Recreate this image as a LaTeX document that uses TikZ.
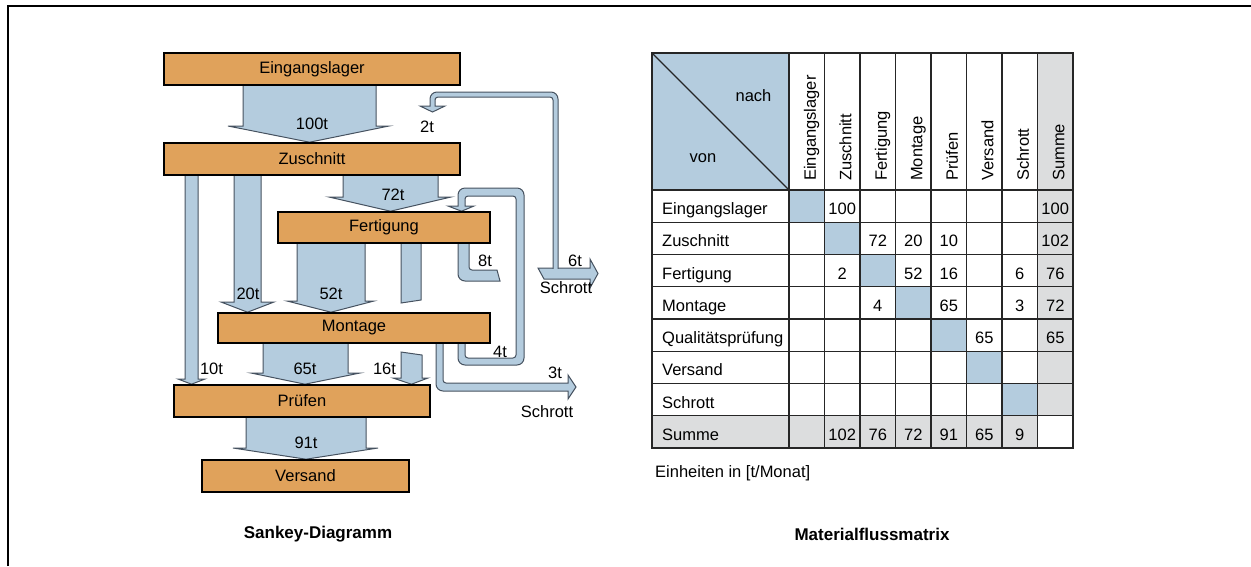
\documentclass[tikz,border=0pt]{standalone}
\usepackage{fontspec}
\setmainfont{Liberation Sans}
\usepackage{tikz}
\usetikzlibrary{backgrounds}
\definecolor{sankeyOrange}{HTML}{E0A25B}
\definecolor{flowBlue}{HTML}{B4CCDE}
\definecolor{flowEdge}{HTML}{465260}
\definecolor{matBlue}{HTML}{B4CCDE}
\definecolor{matGray}{HTML}{DCDDDE}

\begin{document}
\begin{tikzpicture}[
    x=1pt, y=-1pt,
    station/.style={
        draw=black, fill=sankeyOrange, line width=1.6pt,
        font=\fontsize{16.5}{18}\selectfont,
        inner sep=0pt, text centered
    },
    flow/.style={fill=flowBlue, draw=flowEdge, line width=1pt, line join=miter},
    flowlbl/.style={font=\fontsize{16.5}{18}\selectfont, inner sep=0pt},
    cellnum/.style={font=\fontsize{16.5}{18}\selectfont, inner sep=0pt, anchor=base},
    rowlbl/.style={font=\fontsize{16.5}{18}\selectfont, inner sep=0pt, anchor=base west},
    colhead/.style={font=\fontsize{16.5}{18}\selectfont, inner sep=0pt,
        anchor=base west, rotate=90},
    gridline/.style={draw=black!85, line width=1.2pt},
    gridframe/.style={draw=black!85, line width=2pt},
    caption/.style={font=\fontsize{17}{19}\selectfont\bfseries, inner sep=0pt},
]
\useasboundingbox (0,0) rectangle (1251,566);

%% frame (top and left edge)
\draw[line width=2.3pt] (7.8,566) -- (7.8,6.2) -- (1251,6.2);

%% =================================================================
%% Sankey stations
%% =================================================================
\node[station, minimum width=296pt, minimum height=32pt] (lager) at (312,69) {Eingangslager};
\node[station, minimum width=296pt, minimum height=32pt] (zusch) at (312,159) {Zuschnitt};
\node[station, minimum width=212pt, minimum height=31pt] (fert) at (384,227.5) {Fertigung};
\node[station, minimum width=272pt, minimum height=30pt] (mont) at (354,328) {Montage};
\node[station, minimum width=256pt, minimum height=32pt] (pruef) at (302,401) {Prüfen};
\node[station, minimum width=207pt, minimum height=32pt] (vers) at (305.5,476) {Versand};

%% =================================================================
%% Flows (behind the stations)
%% =================================================================
\begin{scope}[on background layer]
% Eingangslager -> Zuschnitt
\draw[flow] (243,0 |- lager.south) -- (243,126) -- (228,126) -- (309.5,0 |- zusch.north)
    -- (389,126) -- (376,126) -- (376,0 |- lager.south);
% Zuschnitt -> Fertigung, Montage, Pruefen
\draw[flow] (343,0 |- zusch.south) -- (343,197) -- (329,197) -- (390.5,0 |- fert.north)
    -- (451,197) -- (438,197) -- (438,0 |- zusch.south);
\draw[flow] (234,0 |- zusch.south) -- (234,302) -- (221,302) -- (247.5,0 |- mont.north)
    -- (274,302) -- (261,302) -- (261,0 |- zusch.south);
\draw[flow] (185,0 |- zusch.south) -- (185,379) -- (178,379) -- (191.5,0 |- pruef.north)
    -- (205,379) -- (198,379) -- (198,0 |- zusch.south);
% Fertigung -> Montage
\draw[flow] (297,0 |- fert.south) -- (297,301) -- (287,301) -- (331,0 |- mont.north)
    -- (374,301) -- (365,301) -- (365,0 |- fert.south);
% Fertigung -> Pruefen (broken behind Montage)
\draw[flow] (401,0 |- fert.south) -- (401,303) -- (421,300) -- (421,0 |- fert.south);
\draw[flow] (401,352) -- (401,378) -- (393,378) -- (411.5,0 |- pruef.north)
    -- (428,378) -- (422,378) -- (422,355) -- cycle;
% Montage -> Pruefen
\draw[flow] (263,0 |- mont.south) -- (263,373) -- (251,373) -- (305,0 |- pruef.north)
    -- (360,373) -- (348,373) -- (348,0 |- mont.south);
% Pruefen -> Versand
\draw[flow] (246,0 |- pruef.south) -- (246,448) -- (233,448) -- (306,0 |- vers.north)
    -- (378,448) -- (366,448) -- (366,0 |- pruef.south);

% Fertigung -> 8t (goes behind the 4t loop)
\draw[flow] (458,0 |- fert.south) [rounded corners=7pt] -- (458,281) -- (480,281)
    [sharp corners] -- (500,281) -- (497,270) -- (483,270)
    [rounded corners=3pt] -- (469,270) -- (469,0 |- fert.south);
% Montage -> Fertigung loop
\draw[flow] (465,0 |- mont.south) [rounded corners=3pt] -- (465,358) -- (516,358)
    -- (516,196) -- (465,196) -- (465,201)
    [sharp corners] -- (465,206) -- (474,206) -- (461.5,0 |- fert.north)
    -- (448,206) -- (458,206) -- (458,197)
    [rounded corners=7pt] -- (458,188) -- (524,188) -- (524,365) -- (458,365)
    -- (458,0 |- mont.south);
% Montage -> Schrott
\draw[flow] (443,0 |- mont.south) [rounded corners=3pt] -- (443,383) -- (500,383)
    [sharp corners] -- (568,383) -- (568,375) -- (576,387) -- (568,399) -- (568,391)
    -- (500,391) [rounded corners=7pt] -- (436,391) -- (436,0 |- mont.south);
% 6t to Schrott and 2t back up
\draw[flow] (544,279) -- (590,279) -- (590,288) -- (598,273.5) -- (590,259)
    -- (590,268) -- (538,268) -- cycle;
\draw[flow] (553,268.8) [rounded corners=3pt] -- (553,97) -- (435,97) -- (435,101.5)
    [sharp corners] -- (435,106) -- (445,106) -- (432.5,112) -- (420,106)
    -- (430,106) -- (430,99)
    [rounded corners=7pt] -- (430,92) -- (558,92) -- (558,268.8);
\end{scope}

%% flow labels
\node[flowlbl] (t100) at (312,124) {100t};
\node[flowlbl] (t72) at (393,195) {72t};
\node[flowlbl] (t20) at (248,294) {20t};
\node[flowlbl] (t10) at (211.5,369) {10t};
\node[flowlbl] (t52) at (331,294) {52t};
\node[flowlbl] (t16) at (384.5,369) {16t};
\node[flowlbl] (t65) at (305,369) {65t};
\node[flowlbl] (t91) at (306,443) {91t};
\node[flowlbl] (t2) at (427,127) {2t};
\node[flowlbl] (t8) at (485,261) {8t};
\node[flowlbl] (t6) at (575,261) {6t};
\node[flowlbl] (t4) at (500,352) {4t};
\node[flowlbl] (t3) at (555,373) {3t};
\node[flowlbl] (schrottA) at (566,288) {Schrott};
\node[flowlbl] (schrottB) at (547,412) {Schrott};

\node[caption] (capS) at (318,534) {Sankey-Diagramm};

%% =================================================================
%% Materialflussmatrix
%% =================================================================
\fill[matBlue] (652,53) rectangle (789,190);
\foreach \i in {0,...,6}
    \fill[matBlue] ({789+35.5*\i},{190+32.25*\i}) rectangle +(35.5,32.25);
\fill[matGray] (1037.5,53) rectangle (1073,415);
\fill[matGray] (652,415) rectangle (1037.5,448);

\foreach \c in {0,...,7}
    \draw[gridline] ({789+35.5*\c},53) -- ({789+35.5*\c},448);
\foreach \r in {0,...,7}
    \draw[gridline] (652,{190+32.25*\r}) -- (1073,{190+32.25*\r});
\draw[gridline] (652,53) -- (789,190);
\draw[gridframe] (652,53) rectangle (1073,448);

\node[cellnum] (nach) at (753.5,101) {nach};
\node[cellnum] (von) at (703,162) {von};

\foreach \n [count=\c from 0] in {Eingangslager,Zuschnitt,Fertigung,Montage,Prüfen,Versand,Schrott,Summe}
    \node[colhead] (ch\c) at ({815.75+35.5*\c},181) {\n};
\foreach \n [count=\r from 0] in {Eingangslager,Zuschnitt,Fertigung,Montage,Qualitätsprüfung,Versand,Schrott,Summe}
    \node[rowlbl] (rl\r) at (662,{214.6+32.25*\r}) {\n};

\foreach \r/\c/\v in {0/1/100, 0/7/100,
        1/2/72, 1/3/20, 1/4/10, 1/7/102,
        2/1/2, 2/3/52, 2/4/16, 2/6/6, 2/7/76,
        3/2/4, 3/4/65, 3/6/3, 3/7/72,
        4/5/65, 4/7/65,
        7/1/102, 7/2/76, 7/3/72, 7/4/91, 7/5/65, 7/6/9}
    \node[cellnum] (v\r\c) at ({806.75+35.5*\c},{214.6+32.25*\r}) {\v};

\node[flowlbl, anchor=west] (unit) at (655,473) {Einheiten in [t/Monat]};
\node[caption] (capM) at (872,534) {Materialflussmatrix};

\end{tikzpicture}
\end{document}
